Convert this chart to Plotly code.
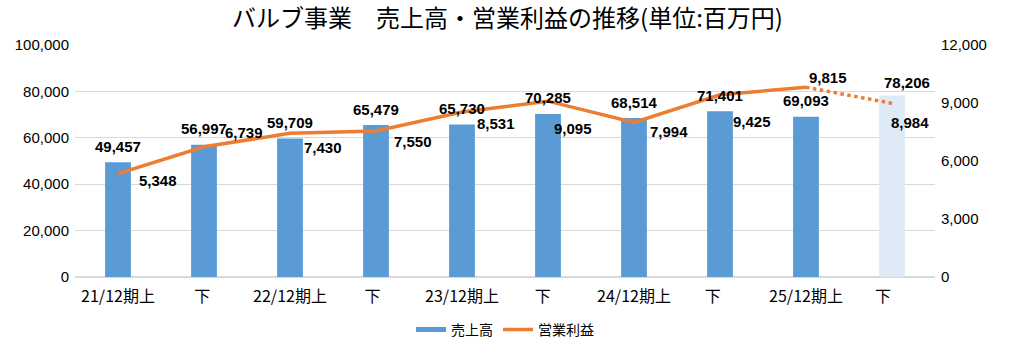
import plotly.graph_objects as go

categories = ["21/12期上", "下 ", "22/12期上", "下  ", "23/12期上", "下   ", "24/12期上", "下    ", "25/12期上", "下     "]
sales = [49457, 56997, 59709, 65479, 65730, 70285, 68514, 71401, 69093, 78206]
profit = [5348, 6739, 7430, 7550, 8531, 9095, 7994, 9425, 9815, 8984]

# label placement (screen pixel offsets) – styling only
profit_shift = [(40, -7), (40, 14), (33, -14), (37, -10), (34, -11), (25, -27), (35, -9), (32, -27), (22, 10), (18, -19)]
sales_shift = [(0, 16)] * 9 + [(15, 13)]

BLUE = "#5B9BD5"
LIGHT = "#DEEBF7"
ORANGE = "#ED7D31"
FONT = "Liberation Sans, Arial, Noto Sans CJK JP, sans-serif"
JP = "Noto Sans CJK JP, sans-serif"

fig = go.Figure()
fig.add_trace(go.Bar(
    x=categories, y=sales, name="売上高", showlegend=False,
    marker=dict(color=[BLUE] * 9 + [LIGHT], line=dict(width=0)),
    yaxis="y",
))
# legend entry drawn as a thick line like the original
fig.add_trace(go.Scatter(
    x=[None], y=[None], name="売上高", mode="lines",
    line=dict(color=BLUE, width=5), yaxis="y",
))
fig.add_trace(go.Scatter(
    x=categories[:9], y=profit[:9], name="営業利益", mode="lines",
    line=dict(color=ORANGE, width=3.5), yaxis="y2",
))
fig.add_trace(go.Scatter(
    x=categories[8:], y=profit[8:], name="営業利益", mode="lines", showlegend=False,
    line=dict(color=ORANGE, width=3.5, dash="dot"), yaxis="y2",
))

annotations = []
for c, v, (dx, dy) in zip(categories, sales, sales_shift):
    annotations.append(dict(x=c, y=v, xref="x", yref="y", text=f"<b>{v:,}</b>",
                            showarrow=False, xshift=dx, yshift=dy,
                            font=dict(size=15, color="black", family=FONT)))
for c, v, (dx, dy) in zip(categories, profit, profit_shift):
    annotations.append(dict(x=c, y=v, xref="x", yref="y2", text=f"<b>{v:,}</b>",
                            showarrow=False, xshift=dx, yshift=dy,
                            font=dict(size=15, color="black", family=FONT)))

fig.update_layout(
    width=1015, height=364,
    margin=dict(l=75, r=80, t=45, b=87),
    paper_bgcolor="white", plot_bgcolor="white",
    title=dict(text="バルブ事業　売上高・営業利益の推移(単位:百万円)", x=0.5, xanchor="center",
               y=1 - 19 / 364, yanchor="middle",
               font=dict(size=24, color="black", family=JP)),
    bargap=0.7,
    font=dict(family=FONT, color="black", size=14),
    xaxis=dict(type="category", range=[-0.5, 9.5], showgrid=False, showline=False,
               ticks="", ticklabelstandoff=8,
               tickfont=dict(size=16, family=JP, color="black")),
    yaxis=dict(range=[0, 100000], dtick=20000, tickformat=",d", showgrid=True,
               gridcolor="#D9D9D9", gridwidth=1, zeroline=True, zerolinecolor="#D9D9D9",
               showline=False, ticks="", ticklabelstandoff=5, tickfont=dict(size=15)),
    yaxis2=dict(range=[0, 12000], dtick=3000, tickformat=",d", overlaying="y", side="right",
                showgrid=False, zeroline=False, showline=False, ticks="", ticklabelstandoff=5,
                tickfont=dict(size=15)),
    legend=dict(orientation="h", x=0.5, xanchor="center", y=-0.228, yanchor="middle",
                font=dict(size=14, family=JP, color="black")),
    annotations=annotations,
)

fig.write_html("out.html", config={"displayModeBar": False},
               post_script="document.body.style.margin='0px';")
